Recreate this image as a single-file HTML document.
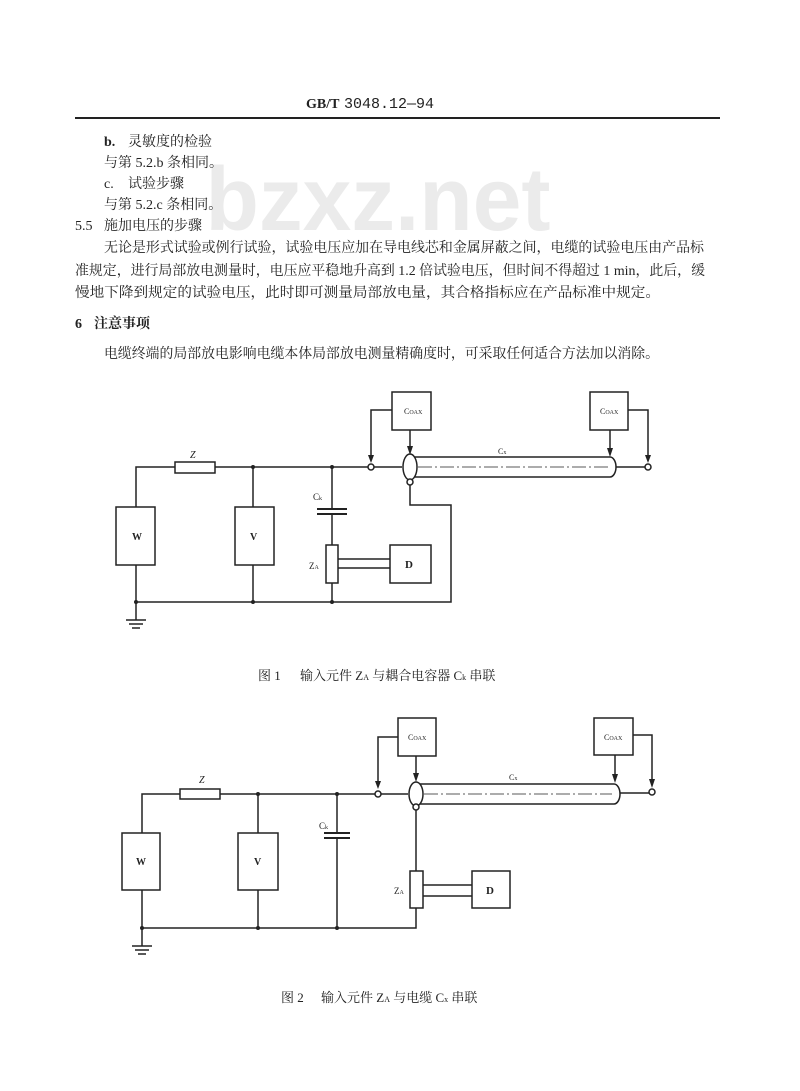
<!DOCTYPE html>
<html><head><meta charset="utf-8"><style>
html,body{margin:0;padding:0;background:#fff;}
svg{display:block;}
text{font-family:"Liberation Serif","Noto Serif CJK SC","Noto Sans CJK SC",serif;fill:#222;}
</style></head><body>
<svg width="800" height="1091" viewBox="0 0 800 1091" xmlns="http://www.w3.org/2000/svg">
<rect width="800" height="1091" fill="#fff"/>
<!-- watermark -->
<text x="378" y="230" text-anchor="middle" font-weight="bold" font-size="90" textLength="345" lengthAdjust="spacingAndGlyphs" style="fill:#ebebeb;font-family:'Liberation Sans',sans-serif">bzxz.net</text>
<!-- header -->
<text x="306" y="108" font-size="14" font-weight="bold">GB/T</text>
<text x="344" y="108" font-size="15" style="font-family:'Liberation Mono',monospace">3048.12—94</text>
<line x1="75" y1="118" x2="720" y2="118" stroke="#222" stroke-width="2"/>
<g font-size="14">
<text x="104" y="146" font-weight="bold">b.</text><text x="128" y="146">灵敏度的检验</text>
<text x="104" y="167">与第 5.2.b 条相同。</text>
<text x="104" y="188">c.</text><text x="128" y="188">试验步骤</text>
<text x="104" y="209">与第 5.2.c 条相同。</text>
<text x="75" y="230">5.5</text><text x="104" y="230">施加电压的步骤</text>
<text x="104" y="252" textLength="600" lengthAdjust="spacingAndGlyphs">无论是形式试验或例行试验，试验电压应加在导电线芯和金属屏蔽之间，电缆的试验电压由产品标</text>
<text x="75" y="275" textLength="630" lengthAdjust="spacingAndGlyphs">准规定，进行局部放电测量时，电压应平稳地升高到 1.2 倍试验电压，但时间不得超过 1 min，此后，缓</text>
<text x="75" y="297" textLength="585" lengthAdjust="spacingAndGlyphs">慢地下降到规定的试验电压，此时即可测量局部放电量，其合格指标应在产品标准中规定。</text>
<text x="75" y="328" font-weight="bold">6</text><text x="94" y="328" font-weight="bold">注意事项</text>
<text x="104" y="358" textLength="555" lengthAdjust="spacingAndGlyphs">电缆终端的局部放电影响电缆本体局部放电测量精确度时，可采取任何适合方法加以消除。</text>
</g>

<!-- FIGURE 1 -->
<g stroke="#222" stroke-width="1.5" fill="none">
<polyline points="136,507 136,467 175,467"/>
<rect x="175" y="462" width="40" height="11" fill="#fff"/>
<line x1="215" y1="467" x2="368" y2="467"/>
<rect x="116" y="507" width="39" height="58" fill="#fff"/>
<line x1="136" y1="565" x2="136" y2="620"/>
<line x1="126" y1="620" x2="146" y2="620"/><line x1="129" y1="624" x2="143" y2="624"/><line x1="132" y1="628" x2="140" y2="628"/>
<line x1="253" y1="467" x2="253" y2="507"/>
<rect x="235" y="507" width="39" height="58" fill="#fff"/>
<line x1="253" y1="565" x2="253" y2="602"/>
<line x1="332" y1="467" x2="332" y2="509"/>
<line x1="317" y1="509" x2="347" y2="509" stroke-width="2"/>
<line x1="317" y1="514" x2="347" y2="514" stroke-width="2"/>
<line x1="332" y1="514" x2="332" y2="545"/>
<rect x="326" y="545" width="12" height="38" fill="#fff"/>
<line x1="332" y1="583" x2="332" y2="602"/>
<line x1="338" y1="559" x2="390" y2="559"/><line x1="338" y1="568" x2="390" y2="568"/>
<rect x="390" y="545" width="41" height="38" fill="#fff"/>
<polyline points="136,602 451,602 451,505 410,505 410,484"/>
<line x1="374" y1="467" x2="402" y2="467"/>
<circle cx="371" cy="467" r="3" fill="#fff"/>
<path d="M410,457 L610,457 A6,10 0 0 1 610,477 L410,477" fill="#fff"/>
<line x1="418" y1="467" x2="608" y2="467" stroke-width="0.8" stroke-dasharray="14,3,2,3"/>
<ellipse cx="410" cy="467" rx="7" ry="13" fill="#fff"/>
<circle cx="410" cy="482" r="3" fill="#fff"/>
<line x1="616" y1="467" x2="645" y2="467"/>
<circle cx="648" cy="467" r="3" fill="#fff"/>
<rect x="392" y="392" width="39" height="38" fill="#fff"/>
<polyline points="392,410 371,410 371,458"/>
<line x1="410" y1="430" x2="410" y2="447"/>
<rect x="590" y="392" width="38" height="38" fill="#fff"/>
<polyline points="628,410 648,410 648,458"/>
<line x1="610" y1="430" x2="610" y2="449"/>
</g>
<g fill="#222">
<polygon points="368,455 374,455 371,463"/>
<polygon points="407,446 413,446 410,455"/>
<polygon points="645,455 651,455 648,463"/>
<polygon points="607,448 613,448 610,457"/>
<circle cx="136" cy="602" r="2"/><circle cx="253" cy="602" r="2"/><circle cx="332" cy="602" r="2"/>
<circle cx="253" cy="467" r="2"/><circle cx="332" cy="467" r="2"/>
</g>
<g font-size="10">
<text x="190" y="458" font-style="italic">Z</text>
<text x="404" y="414" font-size="8">C<tspan font-size="6">OAX</tspan></text>
<text x="600" y="414" font-size="8">C<tspan font-size="6">OAX</tspan></text>
<text x="498" y="454" font-size="8">C<tspan font-size="6">x</tspan></text>
<text x="313" y="500" font-size="9">C<tspan font-size="6">k</tspan></text>
<text x="309" y="569" font-size="9">Z<tspan font-size="6">A</tspan></text>
<text x="132" y="540" font-size="10" font-weight="bold">W</text>
<text x="250" y="540" font-size="10" font-weight="bold">V</text>
<text x="405" y="568" font-size="11" font-weight="bold">D</text>
</g>
<text x="258" y="680" font-size="13">图 1</text>
<text x="300" y="680" font-size="13">输入元件 Z<tspan font-size="8">A</tspan> 与耦合电容器 C<tspan font-size="8">k</tspan> 串联</text>

<!-- FIGURE 2 -->
<g stroke="#222" stroke-width="1.5" fill="none">
<polyline points="142,833 142,794 180,794"/>
<rect x="180" y="789" width="40" height="10" fill="#fff"/>
<line x1="220" y1="794" x2="375" y2="794"/>
<rect x="122" y="833" width="38" height="57" fill="#fff"/>
<line x1="142" y1="890" x2="142" y2="946"/>
<line x1="132" y1="946" x2="152" y2="946"/><line x1="135" y1="950" x2="149" y2="950"/><line x1="138" y1="954" x2="146" y2="954"/>
<line x1="258" y1="794" x2="258" y2="833"/>
<rect x="238" y="833" width="40" height="57" fill="#fff"/>
<line x1="258" y1="890" x2="258" y2="928"/>
<line x1="337" y1="794" x2="337" y2="833"/>
<line x1="324" y1="833" x2="350" y2="833" stroke-width="2"/>
<line x1="324" y1="838" x2="350" y2="838" stroke-width="2"/>
<line x1="337" y1="838" x2="337" y2="928"/>
<polyline points="142,928 416,928 416,908"/>
<line x1="416" y1="810" x2="416" y2="871"/>
<rect x="410" y="871" width="13" height="37" fill="#fff"/>
<line x1="423" y1="885" x2="472" y2="885"/><line x1="423" y1="896" x2="472" y2="896"/>
<rect x="472" y="871" width="38" height="37" fill="#fff"/>
<line x1="381" y1="794" x2="408" y2="794"/>
<circle cx="378" cy="794" r="3" fill="#fff"/>
<path d="M416,784 L614,784 A6,10 0 0 1 614,804 L416,804" fill="#fff"/>
<line x1="424" y1="794" x2="612" y2="794" stroke-width="0.8" stroke-dasharray="14,3,2,3"/>
<ellipse cx="416" cy="794" rx="7" ry="12" fill="#fff"/>
<circle cx="416" cy="807" r="3" fill="#fff"/>
<line x1="620" y1="793" x2="649" y2="793"/>
<circle cx="652" cy="792" r="3" fill="#fff"/>
<rect x="398" y="718" width="38" height="38" fill="#fff"/>
<polyline points="398,737 378,737 378,785"/>
<line x1="416" y1="756" x2="416" y2="774"/>
<rect x="594" y="718" width="39" height="37" fill="#fff"/>
<polyline points="633,735 652,735 652,783"/>
<line x1="615" y1="755" x2="615" y2="775"/>
</g>
<g fill="#222">
<polygon points="375,781 381,781 378,789"/>
<polygon points="413,773 419,773 416,782"/>
<polygon points="649,779 655,779 652,788"/>
<polygon points="612,774 618,774 615,783"/>
<circle cx="142" cy="928" r="2"/><circle cx="258" cy="928" r="2"/><circle cx="337" cy="928" r="2"/>
<circle cx="258" cy="794" r="2"/><circle cx="337" cy="794" r="2"/>
</g>
<g font-size="10">
<text x="199" y="783" font-style="italic">Z</text>
<text x="408" y="740" font-size="8">C<tspan font-size="6">OAX</tspan></text>
<text x="604" y="740" font-size="8">C<tspan font-size="6">OAX</tspan></text>
<text x="509" y="780" font-size="8">C<tspan font-size="6">x</tspan></text>
<text x="319" y="829" font-size="9">C<tspan font-size="6">k</tspan></text>
<text x="394" y="894" font-size="9">Z<tspan font-size="6">A</tspan></text>
<text x="136" y="865" font-size="10" font-weight="bold">W</text>
<text x="254" y="865" font-size="10" font-weight="bold">V</text>
<text x="486" y="894" font-size="11" font-weight="bold">D</text>
</g>
<text x="281" y="1002" font-size="13">图 2</text>
<text x="321" y="1002" font-size="13">输入元件 Z<tspan font-size="8">A</tspan> 与电缆 C<tspan font-size="8">x</tspan> 串联</text>
</svg>
</body></html>
